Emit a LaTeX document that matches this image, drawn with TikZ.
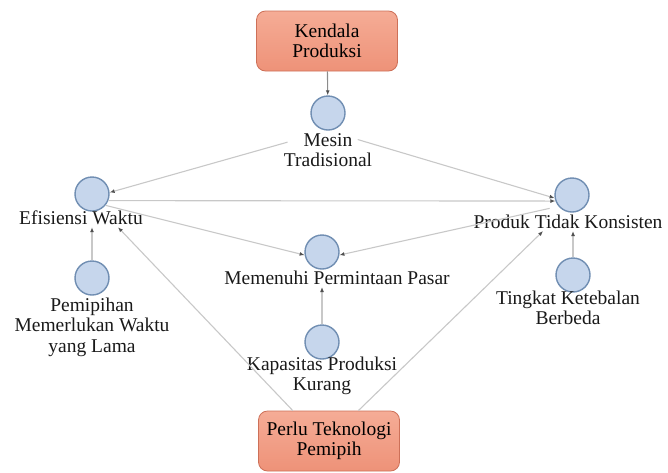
\documentclass[tikz,border=0pt]{standalone}
\usepackage{fontspec}
\newfontfamily\capfont{Liberation Serif}
\usepackage{tikz}
\usetikzlibrary{arrows.meta}
\usepackage{xcolor}
\definecolor{boxfill}{RGB}{238,146,120}
\definecolor{boxtop}{RGB}{245,172,150}
\definecolor{boxedge}{RGB}{205,112,88}
\definecolor{nodefill}{RGB}{198,214,236}
\definecolor{nodeedge}{RGB}{112,142,178}
\definecolor{linkgray}{RGB}{200,200,200}
\definecolor{tipgray}{RGB}{80,80,80}

\begin{document}
\begin{tikzpicture}[x=1pt, y=-1pt, every node/.style={font=\capfont\fontsize{19.5}{20.5}\selectfont},
    factor/.style={draw=boxedge, line width=0.8pt, rounded corners=9pt, top color=boxtop, bottom color=boxfill, minimum width=141pt, minimum height=60pt, align=center},
    point/.style={circle, draw=nodeedge, line width=1.4pt, fill=nodefill, minimum size=34pt, inner sep=0pt},
    caption/.style={align=center, inner sep=2pt, text=black!90},
    link/.style={draw=linkgray, line width=1.1pt, -{Latex[length=5pt, width=4pt, color=tipgray]}}]
        \useasboundingbox (0,0) rectangle (668,472);
        \node[factor] (kendala) at (327,41) {Kendala\\Produksi};
        \node[point] (mesin) at (328,113) {};
        \node[caption] (mesinL) at (328,150) {Mesin\\Tradisional};
        \node[point] (efisiensi) at (92,194) {};
        \node[caption] (efisiensiL) at (81,218) {Efisiensi Waktu};
        \node[point] (pemipihan) at (92,278) {};
        \node[caption] (pemipihanL) at (92,327) {Pemipihan\\Memerlukan Waktu\\yang Lama};
        \node[point] (produk) at (572,195) {};
        \node[caption] (produkL) at (568,222) {Produk Tidak Konsisten};
        \node[point] (tingkat) at (573,275) {};
        \node[caption] (tingkatL) at (568,308) {Tingkat Ketebalan\\Berbeda};
        \node[point] (memenuhi) at (322,252) {};
        \node[caption] (memenuhiL) at (337,278) {Memenuhi Permintaan Pasar};
        \node[point] (kapasitas) at (322,342) {};
        \node[caption] (kapasitasL) at (322,376) {Kapasitas Produksi\\Kurang};
        \node[factor] (perlu) at (329,441) {Perlu Teknologi\\Pemipih};
        \draw[link, draw=black!45] (kendala) -- (mesin);
        \draw[link, shorten <=42pt] (mesin.south) -- (efisiensi.5);
        \draw[link, shorten <=31pt] (mesin.south) -- (produk.190);
        \draw[link] (efisiensi.-22) -- (produk.200);
        \draw[link] (efisiensi.-40) -- (memenuhi.190);
        \draw[link, shorten <=9pt] (produk.220) -- (memenuhi.-10);
        \draw[link] (pemipihan) -- (pemipihan |- efisiensiL.south);
        \draw[link] (tingkat) -- (tingkat |- produkL.south);
        \draw[link] (kapasitas) -- (kapasitas |- memenuhiL.south);
        \draw[link] (perlu.140) -- (efisiensiL.-14);
        \draw[link] (perlu.46) -- (produkL.200);
      \end{tikzpicture}
\end{document}
